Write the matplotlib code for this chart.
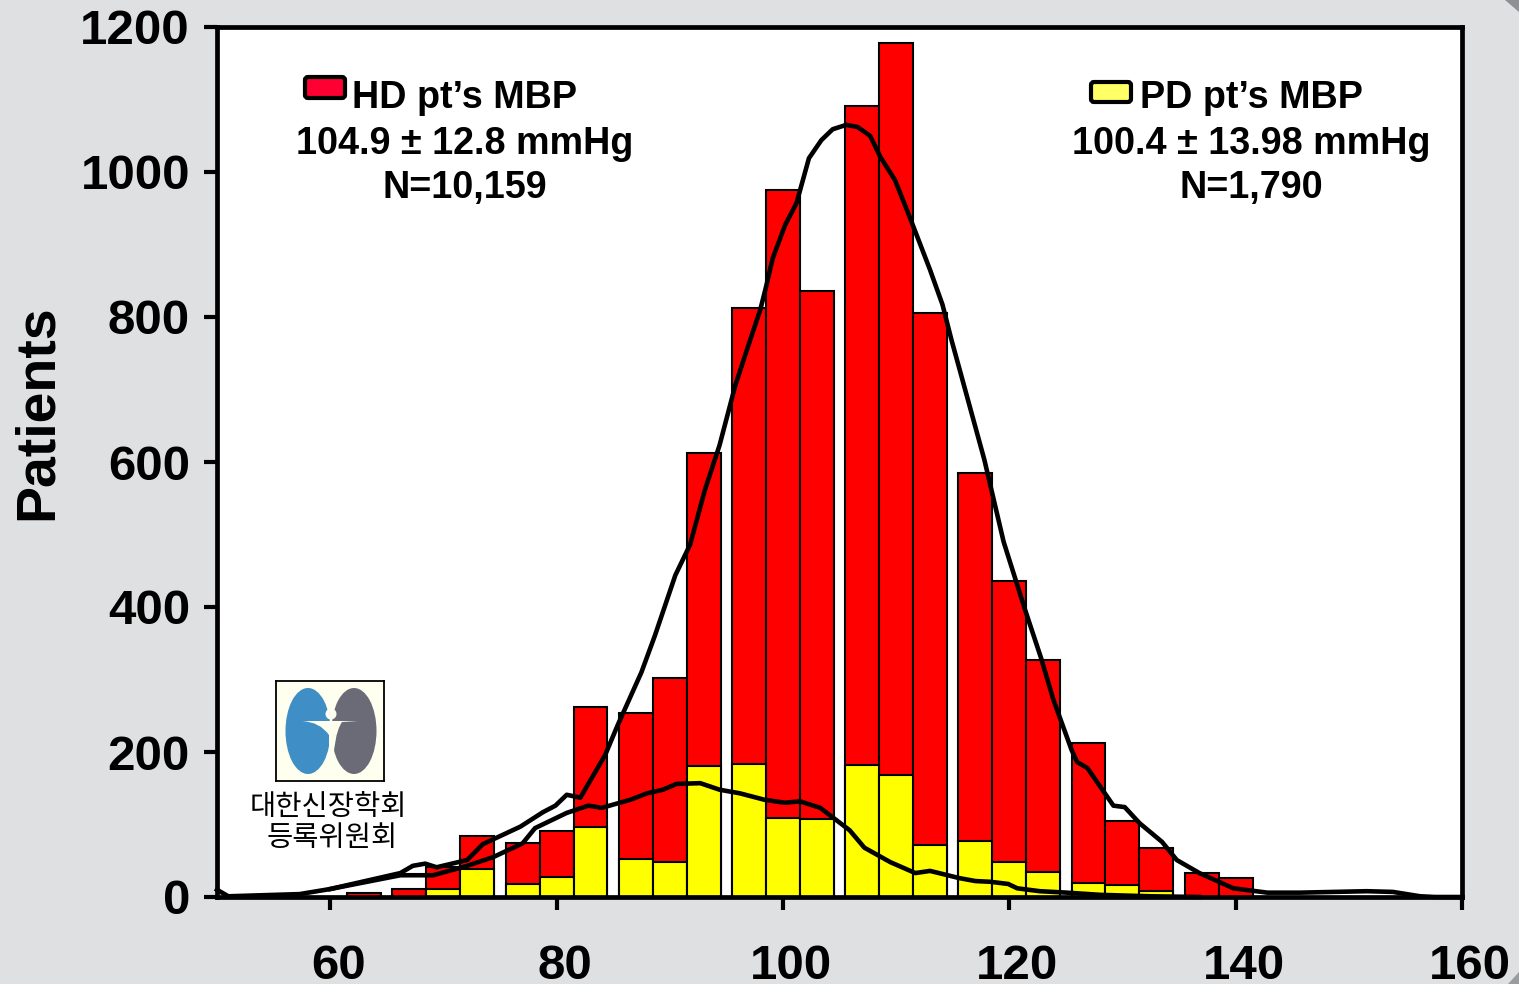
import matplotlib
matplotlib.use("Agg")
import matplotlib.pyplot as plt
from matplotlib.patches import Ellipse, FancyBboxPatch, Polygon, PathPatch
from matplotlib.path import Path
from matplotlib.transforms import ScaledTranslation

# ---------- data ----------
bin_centers = [63, 67, 70, 73, 77, 80, 83, 87, 90, 93, 97, 100, 103, 107, 110, 113,
               117, 120, 123, 127, 130, 133, 137, 140]
hd_patients = [6, 11, 42, 84, 75, 91, 262, 254, 302, 612, 812, 975, 836, 1091, 1178, 805,
               585, 436, 327, 212, 105, 68, 33, 26]
pd_patients = [0, 0, 11, 39, 18, 27, 96, 52, 48, 181, 183, 109, 108, 182, 168, 72,
               77, 48, 34, 20, 16, 8, 0, 0]

hd_curve_x = [50, 51, 57.3, 60, 66.2, 67.3, 68.4, 69.4, 72.1, 73.5, 76.8, 78.8, 79.9, 80.9, 82.1,
              84.3, 85.4, 87.5, 88.7, 90.5, 91.8, 93.1, 94.4, 95.8, 97.1, 98, 98.5, 99.1, 100.2,
              101.2, 102.3, 103.4, 104.4, 105.6, 106.6, 107.7, 108.6, 109.9, 111.2, 113, 114.1,
              114.9, 115.5, 117.8, 119.5, 121.4, 122.8, 123.9, 125.5, 126, 126.9, 129.2, 130.2,
              131.5, 133.5, 134.8, 136.8, 139.8, 142.8, 145.7, 151.6, 153.9, 156.3, 157.6, 160]
hd_curve_y = [10, 1, 4, 11, 33, 43, 46, 41, 51, 73, 97, 117, 126, 141, 137,
              196, 237, 310, 361, 444, 486, 561, 623, 706, 768, 810, 841, 881, 927,
              957, 1019, 1044, 1059, 1065, 1062, 1050, 1021, 989, 938, 865, 817,
              768, 734, 603, 490, 396, 330, 272, 203, 186, 178, 126, 124,
              102, 76, 51, 33, 12, 6, 6, 8, 7, 1, 0, 0]

pd_curve_x = [60, 66.2, 69.1, 72.1, 74.4, 77, 78.1, 80.9, 82.8, 84, 86.5, 88, 89.4, 90.6, 92.7,
              94.4, 96.2, 98.4, 100.2, 101.5, 103.3, 105.9, 107.2, 109.5, 111.7, 113, 115.6,
              117, 118.3, 119.9, 120.7, 122.7, 125.1, 128, 132.4, 136.8]
pd_curve_y = [11, 30, 30, 43, 55, 74, 95, 116, 126, 123, 134, 143, 148, 156, 157,
              148, 143, 134, 130, 132, 123, 92, 68, 48, 33, 36, 26,
              22, 21, 18, 12, 8, 6, 3, 1, 0]

x_ticks = [60, 80, 100, 120, 140, 160]
y_ticks = [0, 200, 400, 600, 800, 1000, 1200]
hd_lines = ["HD pt\u2019s MBP", "104.9 \u00b1 12.8 mmHg", "N=10,159"]
pd_lines = ["PD pt\u2019s MBP", "100.4 \u00b1 13.98 mmHg", "N=1,790"]
org_lines = ["대한신장학회", "등록위원회"]

# ---------- style ----------
W, H = 1519, 984
BG = "#DFE0E2"
plt.rcParams["font.family"] = ["Liberation Sans", "DejaVu Sans"]
fig = plt.figure(figsize=(W / 100, H / 100), dpi=100, facecolor=BG)
ax = fig.add_axes([217 / W, 1 - 897 / H, (1462 - 217) / W, (897 - 27) / H], facecolor="white")


def fx(px):
    return px / W


def fy(py):
    return 1 - py / H


# ---------- marks ----------
ax.bar(bin_centers, hd_patients, width=3, color="#FF0000", edgecolor="black", linewidth=1.5, zorder=2)
ax.bar(bin_centers, pd_patients, width=3, color="#FFFF00", edgecolor="black", linewidth=1.5, zorder=3)
ax.plot(hd_curve_x, hd_curve_y, color="black", lw=3.3, solid_joinstyle="round", zorder=4, clip_on=False)
ax.plot(pd_curve_x, pd_curve_y, color="black", lw=3.3, solid_joinstyle="round", zorder=4, clip_on=False)

# ---------- axes ----------
ax.set_xlim(50, 160)
ax.set_ylim(0, 1200)
ax.set_xticks(x_ticks)
ax.set_yticks(y_ticks)
ax.tick_params(axis="x", length=9, width=3, pad=25, labelsize=35.5)
ax.tick_params(axis="y", length=9.5, width=3, pad=10, labelsize=35.5)
for s in ax.spines.values():
    s.set_linewidth(3.4)
    s.set_zorder(6)
offset = ScaledTranslation(8 / 100, 0, fig.dpi_scale_trans)
for lab in ax.get_xticklabels():
    lab.set_fontweight("bold")
    lab.set_transform(lab.get_transform() + offset)
yoff = ScaledTranslation(0, 0, fig.dpi_scale_trans)
for lab in ax.get_yticklabels():
    lab.set_fontweight("bold")
    lab.set_transform(lab.get_transform() + yoff)
fig.text(fx(38), fy(412), "Patients", rotation=90, fontsize=40, fontweight="bold", ha="center", va="center")

# ---------- annotation text ----------
for lines, cx in ((hd_lines, 465), (pd_lines, 1251)):
    for line, py in zip(lines, (98, 144, 188)):
        fig.text(fx(cx), fy(py), line, fontsize=27.2, fontweight="bold", ha="center", va="center")

fig.add_artist(FancyBboxPatch((fx(305), fy(98)), 40 / W, 21 / H, boxstyle="round,pad=0,rounding_size=0.002",
                              mutation_aspect=W / H, transform=fig.transFigure,
                              facecolor="#FF0033", edgecolor="black", linewidth=3, zorder=8))
fig.add_artist(FancyBboxPatch((fx(1091), fy(102)), 40 / W, 20 / H, boxstyle="round,pad=0,rounding_size=0.002",
                              mutation_aspect=W / H, transform=fig.transFigure,
                              facecolor="#FFFF66", edgecolor="black", linewidth=3, zorder=8))

for line, px, py in zip(org_lines, (328, 332), (807, 838)):
    fig.text(fx(px), fy(py), line, fontsize=20.5, fontweight="medium", ha="center", va="center",
             family=["Noto Sans CJK KR", "DejaVu Sans"], zorder=8)

# ---------- society logo (decoration) ----------
logo = fig.add_axes([276 / W, 1 - 781 / H, 108 / W, 100 / H], facecolor="#FFFFF0", zorder=7)
logo.set_xlim(276, 384)
logo.set_ylim(781, 681)
logo.set_xticks([])
logo.set_yticks([])
for s in logo.spines.values():
    s.set_linewidth(1.3)
logo.add_patch(Ellipse((308, 731), 45, 86, facecolor="#3F8EC6", edgecolor="none"))
logo.add_patch(Ellipse((354, 731), 45, 86, facecolor="#6B6B78", edgecolor="none"))
logo.add_patch(Ellipse((331, 694), 8, 22, facecolor="#FFFFF0", edgecolor="none"))
figure_path = Path(
    [(302, 721), (320, 722), (329, 735), (329, 774), (333, 774), (333, 735), (342, 722), (358, 721), (302, 721)],
    [Path.MOVETO, Path.CURVE3, Path.CURVE3, Path.LINETO, Path.LINETO, Path.CURVE3, Path.CURVE3, Path.LINETO,
     Path.CLOSEPOLY],
)
logo.add_patch(PathPatch(figure_path, facecolor="#FFFFF0", edgecolor="none"))
logo.add_patch(Ellipse((331, 714), 11, 11, facecolor="#FFFFF0", edgecolor="none"))

# ---------- slide corner marks ----------
fig.add_artist(Polygon([(fx(1505), 1), (1, 1), (1, fy(12))], transform=fig.transFigure,
                       facecolor="#8E9094", edgecolor="none"))
fig.add_artist(Polygon([(1, fy(972)), (1, 0), (fx(1508), 0)], transform=fig.transFigure,
                       facecolor="#9A9CA0", edgecolor="none"))

fig.savefig("out.png", dpi=100, facecolor=BG)
